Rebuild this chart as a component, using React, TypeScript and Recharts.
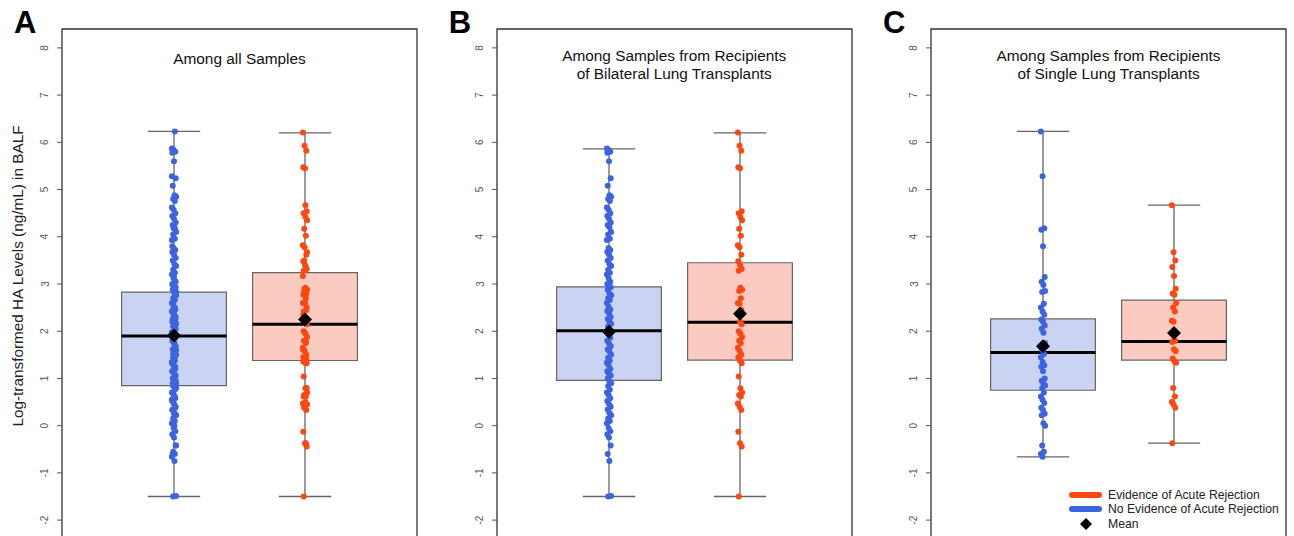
import React from "react";
import {
  ComposedChart,
  ReferenceArea,
  ReferenceLine,
  Scatter,
  XAxis,
  YAxis,
} from "recharts";

const FONT = "'Liberation Sans', Arial, Helvetica, sans-serif";

// log-transformed HA values
const BILATERAL_NO = [
  5.87, 5.84, 5.8, 5.78, 5.6, 5.24, 5.08, 4.88, 4.85, 4.8, 4.76, 4.62, 4.57,
  4.5, 4.44, 4.38, 4.3, 4.25, 4.2, 4.1, 4.05, 3.96, 3.93, 3.76, 3.72, 3.68,
  3.62, 3.55, 3.5, 3.42, 3.38, 3.3, 3.24, 3.2, 3.12, 3.05, 3.0, 2.96, 2.93,
  2.88, 2.8, 2.76, 2.7, 2.66, 2.6, 2.52, 2.46, 2.43, 2.38, 2.3, 2.26, 2.2,
  2.16, 2.1, 2.02, 1.98, 1.93, 1.86, 1.8, 1.74, 1.68, 1.62, 1.57, 1.5, 1.44,
  1.38, 1.33, 1.28, 1.2, 1.15, 1.1, 1.06, 1.0, 0.94, 0.9, 0.84, 0.76, 0.7,
  0.65, 0.58, 0.52, 0.46, 0.4, 0.34, 0.27, 0.22, 0.15, 0.1, 0.05, -0.05,
  -0.12, -0.18, -0.25, -0.42, -0.6, -0.75, -1.49, -1.5,
];
const BILATERAL_AR = [
  6.21, 5.93, 5.82, 5.47, 5.45, 4.54, 4.5, 4.42, 4.35, 4.17, 4.02, 3.82, 3.78,
  3.62, 3.48, 3.4, 3.32, 3.28, 2.92, 2.88, 2.85, 2.7, 2.6, 2.58, 2.45, 2.35,
  2.2, 2.15, 2.0, 1.95, 1.88, 1.8, 1.75, 1.65, 1.58, 1.5, 1.45, 1.38, 1.32,
  1.04, 0.79, 0.7, 0.65, 0.62, 0.47, 0.4, 0.33, -0.13, -0.37, -0.44, -1.5,
];
const SINGLE_NO = [
  6.23, 5.28, 4.18, 4.15, 3.8, 3.15, 3.05, 2.98, 2.85, 2.83, 2.58, 2.5, 2.42,
  2.35, 2.25, 2.2, 2.12, 2.05, 1.97, 1.75, 1.6, 1.52, 1.45, 1.35, 1.28, 1.25,
  1.15, 1.0, 0.95, 0.9, 0.85, 0.8, 0.7, 0.62, 0.55, 0.48, 0.38, 0.33, 0.25,
  0.22, 0.05, 0.0, -0.42, -0.55, -0.6, -0.66,
];
const SINGLE_AR = [
  4.67, 3.67, 3.5, 3.36, 3.17, 2.9, 2.8, 2.77, 2.6, 2.5, 2.42, 2.22, 2.2,
  1.8, 1.77, 1.62, 1.58, 1.42, 1.36, 1.33, 0.8, 0.62, 0.5, 0.45, 0.38, -0.37,
];

const PANEL_LETTERS = ["A", "B", "C"];
const PANEL_TITLES = [
  ["Among all Samples"],
  ["Among Samples from Recipients", "of Bilateral Lung Transplants"],
  ["Among Samples from Recipients", "of Single Lung Transplants"],
];
const Y_TICKS = [-2, -1, 0, 1, 2, 3, 4, 5, 6, 7, 8];

// box stats per panel (A, B, C)
const NO_LOW = [-1.5, -1.5, -0.66];
const NO_Q1 = [0.85, 0.96, 0.75];
const NO_MEDIAN = [1.9, 2.01, 1.55];
const NO_Q3 = [2.83, 2.94, 2.26];
const NO_HIGH = [6.23, 5.86, 6.23];
const NO_MEAN = [1.91, 1.99, 1.68];

const AR_LOW = [-1.5, -1.5, -0.37];
const AR_Q1 = [1.38, 1.39, 1.39];
const AR_MEDIAN = [2.15, 2.19, 1.78];
const AR_Q3 = [3.24, 3.45, 2.66];
const AR_HIGH = [6.2, 6.2, 4.67];
const AR_MEAN = [2.25, 2.37, 1.96];

const PANEL_NO = [[...BILATERAL_NO, ...SINGLE_NO], BILATERAL_NO, SINGLE_NO];
const PANEL_AR = [[...BILATERAL_AR, ...SINGLE_AR], BILATERAL_AR, SINGLE_AR];

const NO_COLOR = "#3D64E0";
const AR_COLOR = "#FF4710";
const NO_FILL = "#CAD3F2";
const AR_FILL = "#FBCBC1";

const FRAME_LEFT = [62, 496.7, 931];
const FRAME_W = 355;
const AXIS_W = 50;
const X_DOMAIN: [number, number] = [0.145, 2.855];
const Y_DOMAIN: [number, number] = [-2.4, 8.4];

// small fixed sideways spread, like R's jitter
const jitter = (i: number) => (((i * 37) % 11) - 5) * 0.0032;

const toPoints = (values: number[], pos: number) =>
  values.map((v, i) => ({ x: pos + jitter(i), y: v }));

const Dot = (color: string) => (p: any) =>
  <circle cx={p.cx} cy={p.cy} r={3} fill={color} />;

const Diamond = (p: any) => (
  <path
    d={`M${p.cx},${p.cy - 7} L${p.cx + 7},${p.cy} L${p.cx},${p.cy + 7} L${p.cx - 7},${p.cy} Z`}
    fill="#000"
  />
);

const YTick = (p: any) => (
  <text
    x={p.x - 12}
    y={p.y}
    transform={`rotate(-90, ${p.x - 12}, ${p.y})`}
    textAnchor="middle"
    dominantBaseline="central"
    fontSize={10}
    fill="#555"
    fontFamily={FONT}
  >
    {p.payload.value}
  </text>
);

function BoxGroup(pos: number, low: number, q1: number, med: number, q3: number, high: number, fill: string) {
  return [
    <ReferenceArea key={`b${pos}`} x1={pos - 0.4} x2={pos + 0.4} y1={q1} y2={q3} fill={fill} fillOpacity={1} stroke="#666" strokeWidth={1.2} />,
    <ReferenceLine key={`wu${pos}`} segment={[{ x: pos, y: q3 }, { x: pos, y: high }]} stroke="#666" strokeWidth={1.3} />,
    <ReferenceLine key={`wl${pos}`} segment={[{ x: pos, y: low }, { x: pos, y: q1 }]} stroke="#666" strokeWidth={1.3} />,
    <ReferenceLine key={`cu${pos}`} segment={[{ x: pos - 0.2, y: high }, { x: pos + 0.2, y: high }]} stroke="#666" strokeWidth={1.3} />,
    <ReferenceLine key={`cl${pos}`} segment={[{ x: pos - 0.2, y: low }, { x: pos + 0.2, y: low }]} stroke="#666" strokeWidth={1.3} />,
  ];
}

function Panel({ idx }: { idx: number }) {
  const noPts = toPoints(PANEL_NO[idx], 1);
  const arPts = toPoints(PANEL_AR[idx], 2);
  const means = [
    { x: 1, y: NO_MEAN[idx] },
    { x: 2, y: AR_MEAN[idx] },
  ];
  return (
    <div style={{ position: "absolute", left: FRAME_LEFT[idx] - AXIS_W, top: 0 }}>
      <ComposedChart
        width={AXIS_W + FRAME_W + 8}
        height={560}
        margin={{ top: 29, right: 8, bottom: 21, left: 0 }}
      >
        <XAxis type="number" dataKey="x" domain={X_DOMAIN} hide allowDataOverflow />
        <YAxis
          type="number"
          dataKey="y"
          domain={Y_DOMAIN}
          ticks={Y_TICKS}
          width={AXIS_W}
          axisLine={false}
          tickSize={5}
          tickMargin={0}
          tickLine={{ stroke: "#555" }}
          tick={YTick}
          allowDataOverflow
        />
        <ReferenceArea x1={X_DOMAIN[0]} x2={X_DOMAIN[1]} y1={Y_DOMAIN[0]} y2={Y_DOMAIN[1]} fill="none" stroke="#333" strokeWidth={1.3} />
        {BoxGroup(1, NO_LOW[idx], NO_Q1[idx], NO_MEDIAN[idx], NO_Q3[idx], NO_HIGH[idx], NO_FILL)}
        {BoxGroup(2, AR_LOW[idx], AR_Q1[idx], AR_MEDIAN[idx], AR_Q3[idx], AR_HIGH[idx], AR_FILL)}
        <ReferenceLine segment={[{ x: 0.6, y: NO_MEDIAN[idx] }, { x: 1.4, y: NO_MEDIAN[idx] }]} stroke="#000" strokeWidth={3} />
        <ReferenceLine segment={[{ x: 1.6, y: AR_MEDIAN[idx] }, { x: 2.4, y: AR_MEDIAN[idx] }]} stroke="#000" strokeWidth={3} />
        <Scatter data={noPts} shape={Dot(NO_COLOR)} isAnimationActive={false} />
        <Scatter data={arPts} shape={Dot(AR_COLOR)} isAnimationActive={false} />
        <Scatter data={means} shape={Diamond} isAnimationActive={false} />
      </ComposedChart>
    </div>
  );
}

export default function App() {
  return (
    <div
      style={{
        position: "absolute",
        left: 0,
        top: 0,
        width: 1294,
        height: 536,
        overflow: "hidden",
        background: "#fff",
        fontFamily: FONT,
      }}
    >
      {[0, 1, 2].map((i) => (
        <Panel key={i} idx={i} />
      ))}
      {PANEL_LETTERS.map((l, i) => (
        <div
          key={l}
          style={{
            position: "absolute",
            left: FRAME_LEFT[i] - 48,
            top: 5,
            fontSize: 31,
            fontWeight: "bold",
            color: "#000",
          }}
        >
          {l}
        </div>
      ))}
      {PANEL_TITLES.map((lines, i) => (
        <div
          key={i}
          style={{
            position: "absolute",
            left: FRAME_LEFT[i],
            width: FRAME_W,
            top: lines.length === 1 ? 50 : 47,
            textAlign: "center",
            fontSize: 15.4,
            lineHeight: "18px",
            color: "#111",
          }}
        >
          {lines.map((t) => (
            <div key={t}>{t}</div>
          ))}
        </div>
      ))}
      <div
        style={{
          position: "absolute",
          left: 18,
          top: 276,
          transform: "translate(-50%, -50%) rotate(-90deg)",
          whiteSpace: "nowrap",
          fontSize: 15.3,
          color: "#222",
        }}
      >
        Log-transformed HA Levels (ng/mL) in BALF
      </div>
      <svg style={{ position: "absolute", left: 1060, top: 485 }} width={234} height={50}>
        <line x1={12} y1={10} x2={39} y2={10} stroke={AR_COLOR} strokeWidth={6} strokeLinecap="round" />
        <line x1={12} y1={24} x2={39} y2={24} stroke={NO_COLOR} strokeWidth={6} strokeLinecap="round" />
        <path d="M26,33 L32,39 L26,45 L20,39 Z" fill="#000" />
        <text x={48} y={14} fontSize={12.2} fill="#222" fontFamily={FONT}>Evidence of Acute Rejection</text>
        <text x={48} y={28} fontSize={12.2} fill="#222" fontFamily={FONT}>No Evidence of Acute Rejection</text>
        <text x={48} y={43} fontSize={12.2} fill="#222" fontFamily={FONT}>Mean</text>
      </svg>
    </div>
  );
}
